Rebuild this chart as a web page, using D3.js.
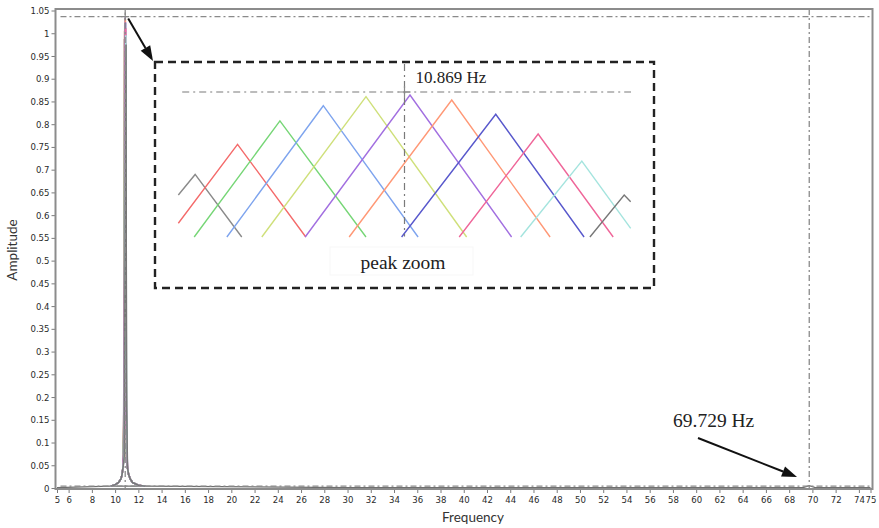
<!DOCTYPE html>
<html>
<head>
<meta charset="utf-8">
<script src="https://cdn.jsdelivr.net/npm/d3@7"></script>
<style>
  html, body { margin: 0; padding: 0; background: #fff; }
  svg { display: block; }
  .tick text { font-family: "Liberation Sans Narrow", "DejaVu Sans Condensed", sans-serif; font-size: 9.5px; fill: #2a2a2a; }
  .tick line { stroke: #7a7a7a; }
  .axis-title { font-family: Lato, "Open Sans", sans-serif; font-size: 13.5px; fill: #333; }
  .serif { font-family: "Liberation Serif", "DejaVu Serif", serif; fill: #222; }
</style>
</head>
<body>
<svg id="chart" width="879" height="528"></svg>
<script>
// ---- spectrum data -------------------------------------------------------
// One spectrum per run; each has its own peak near 10.87 Hz.
const seriesColors = ["#8a8a8a", "#f46a6a", "#76d676", "#7ea4ee", "#cfe07a", "#a26fe0",
                      "#ff9876", "#5858cc", "#ef6699", "#a4e4de", "#777777"];
const peakHz  = [10.8043, 10.8174, 10.8305, 10.8439, 10.8571, 10.8707, 10.8836, 10.8972, 10.9103, 10.9238, 10.9369];
const peakAmp = [0.9874, 1.0054, 1.0194, 1.0285, 1.0339, 1.0349, 1.0319, 1.0234, 1.0116, 0.9954, 0.9751];

// Flank samples on both sides of the peak (Hz) and the amplitude of each run there.
const flankHz = [9.6, 10.0, 10.3, 10.5, 10.6, 10.68, 10.74, 10.78, 10.96, 11.0, 11.06, 11.16, 11.3, 11.5, 12.0, 12.6];
const flankAmp = [
  [0.004, 0.007, 0.012, 0.020, 0.030, 0.045, 0.170, 0.460, 0.070, 0.056, 0.045, 0.030, 0.020, 0.012, 0.006, 0.004],
  [0.004, 0.007, 0.012, 0.020, 0.030, 0.045, 0.140, 0.300, 0.077, 0.060, 0.045, 0.030, 0.020, 0.012, 0.006, 0.004],
  [0.004, 0.007, 0.012, 0.020, 0.030, 0.045, 0.120, 0.220, 0.085, 0.065, 0.045, 0.030, 0.020, 0.012, 0.006, 0.004],
  [0.004, 0.007, 0.012, 0.020, 0.030, 0.045, 0.105, 0.170, 0.095, 0.070, 0.045, 0.030, 0.020, 0.012, 0.006, 0.004],
  [0.004, 0.007, 0.012, 0.020, 0.030, 0.045, 0.094, 0.140, 0.107, 0.077, 0.045, 0.030, 0.020, 0.012, 0.006, 0.004],
  [0.004, 0.007, 0.012, 0.020, 0.030, 0.045, 0.084, 0.120, 0.124, 0.085, 0.045, 0.030, 0.020, 0.012, 0.006, 0.004],
  [0.004, 0.007, 0.012, 0.020, 0.030, 0.045, 0.076, 0.105, 0.145, 0.095, 0.045, 0.030, 0.020, 0.012, 0.006, 0.004],
  [0.004, 0.007, 0.012, 0.020, 0.030, 0.045, 0.070, 0.094, 0.175, 0.107, 0.045, 0.030, 0.020, 0.012, 0.006, 0.004],
  [0.004, 0.007, 0.012, 0.020, 0.030, 0.045, 0.065, 0.085, 0.220, 0.120, 0.045, 0.030, 0.020, 0.012, 0.006, 0.004],
  [0.004, 0.007, 0.012, 0.020, 0.030, 0.045, 0.060, 0.076, 0.300, 0.145, 0.045, 0.030, 0.020, 0.012, 0.006, 0.004],
  [0.004, 0.007, 0.012, 0.020, 0.030, 0.045, 0.056, 0.070, 0.480, 0.175, 0.045, 0.030, 0.020, 0.012, 0.006, 0.004]
];

// Noise floor over the whole band, with the small component near 69.7 Hz.
const floorHz  = [5, 9.6, 12.6, 30, 50, 69.2, 69.729, 70.25, 75];
const floorAmp = [0.001, 0.004, 0.004, 0.001, 0.001, 0.001, 0.005, 0.001, 0.001];

// Cursors (frequency, amplitude) and their readouts.
const cursorHz  = [10.869, 69.729];
const cursorAmp = [1.0367, 0.004];
const cursorLabels = ["10.869 Hz", "69.729 Hz"];

// Samples around the main peak, shown in the zoom box (3 samples per run).
const insetHz = [
  [10.7991, 10.8043, 10.8187],
  [10.7991, 10.8174, 10.8385],
  [10.8040, 10.8305, 10.8571],
  [10.8141, 10.8439, 10.8732],
  [10.8249, 10.8571, 10.8882],
  [10.8383, 10.8707, 10.9021],
  [10.8519, 10.8836, 10.9140],
  [10.8681, 10.8972, 10.9245],
  [10.8859, 10.9103, 10.9335],
  [10.9049, 10.9238, 10.9389],
  [10.9263, 10.9369, 10.9389]
];
const insetAmp = [
  [0.9751, 0.9874, 0.9500],
  [0.9582, 1.0054, 0.9500],
  [0.9500, 1.0194, 0.9500],
  [0.9500, 1.0285, 0.9500],
  [0.9500, 1.0339, 0.9500],
  [0.9500, 1.0349, 0.9500],
  [0.9500, 1.0319, 0.9500],
  [0.9500, 1.0234, 0.9500],
  [0.9500, 1.0116, 0.9500],
  [0.9500, 0.9954, 0.9552],
  [0.9500, 0.9751, 0.9711]
];
const insetTitle = "peak zoom";

// Axis ticks and titles.
const xTicks = [5, 6, 8, 10, 12, 14, 16, 18, 20, 22, 24, 26, 28, 30, 32, 34, 36, 38, 40, 42, 44, 46,
                48, 50, 52, 54, 56, 58, 60, 62, 64, 66, 68, 70, 72, 74, 75];
const yTicks = [0, 0.05, 0.1, 0.15, 0.2, 0.25, 0.3, 0.35, 0.4, 0.45, 0.5, 0.55, 0.6, 0.65, 0.7,
                0.75, 0.8, 0.85, 0.9, 0.95, 1, 1.05];
const xTitle = "Frequency";
const yTitle = "Amplitude";

// ---- layout --------------------------------------------------------------
const svg = d3.select("#chart");
const plot = { left: 57, right: 870.5, top: 10.5, bottom: 488 };
const frame = { left: 55.5, right: 872.5, top: 9, bottom: 489 };

const x = d3.scaleLinear().domain([5, 75]).range([plot.left, plot.right]);
const y = d3.scaleLinear().domain([0, 1.05]).range([plot.bottom, plot.top]);

const dashDot = "6,3,2,3";
const cursorColor = "#8a8a8a";

svg.append("defs").append("clipPath").attr("id", "plotClip")
  .append("rect").attr("x", frame.left).attr("y", frame.top)
  .attr("width", frame.right - frame.left).attr("height", frame.bottom - frame.top);

// Axes
const xAxis = svg.append("g").attr("transform", `translate(0,${frame.bottom})`)
  .call(d3.axisBottom(x).tickValues(xTicks).tickSize(4).tickPadding(3).tickFormat(d3.format("~g")));
const yAxis = svg.append("g").attr("transform", `translate(${frame.left},0)`)
  .call(d3.axisLeft(y).tickValues(yTicks).tickSize(4).tickPadding(2).tickFormat(d3.format("~g")));
xAxis.select(".domain").remove();
yAxis.select(".domain").remove();

// Spectra
const line = d3.line().x(d => x(d[0])).y(d => y(d[1]));
const series = seriesColors.map((c, i) => {
  const pts = flankHz.map((f, j) => [f, flankAmp[i][j]]);
  pts.push([peakHz[i], peakAmp[i]]);
  pts.sort((a, b) => a[0] - b[0]);
  return { color: c, pts };
});

const gPlot = svg.append("g").attr("clip-path", "url(#plotClip)");
gPlot.append("path")
  .attr("d", line(floorHz.map((f, i) => [f, floorAmp[i]])))
  .attr("fill", "none").attr("stroke", "#6f6f6f").attr("stroke-width", 1.2);
gPlot.selectAll("path.spec").data(series).join("path")
  .attr("class", "spec")
  .attr("d", d => line(d.pts))
  .attr("fill", "none")
  .attr("stroke", d => d.color)
  .attr("stroke-width", 1.6);

// Cursor cross-hairs
cursorHz.forEach((f, i) => {
  gPlot.append("line")
    .attr("x1", x(5.3)).attr("x2", frame.right)
    .attr("y1", y(cursorAmp[i])).attr("y2", y(cursorAmp[i]))
    .attr("stroke", cursorColor).attr("stroke-width", 1.2).attr("stroke-dasharray", dashDot);
  gPlot.append("line")
    .attr("x1", x(f)).attr("x2", x(f))
    .attr("y1", frame.top).attr("y2", frame.bottom)
    .attr("stroke", cursorColor).attr("stroke-width", 1.3).attr("stroke-dasharray", dashDot);
});
// cursor marker on the main peak
gPlot.append("path")
  .attr("d", `M${x(cursorHz[0]) - 4},${y(cursorAmp[0])}h8M${x(cursorHz[0])},${y(cursorAmp[0]) - 4}v8`)
  .attr("stroke", "#888").attr("stroke-width", 1.2);

// Plot frame
svg.append("rect")
  .attr("x", frame.left).attr("y", frame.top)
  .attr("width", frame.right - frame.left).attr("height", frame.bottom - frame.top)
  .attr("fill", "none").attr("stroke", "#8c8c8c").attr("stroke-width", 2);

// Axis titles
svg.append("text").attr("class", "axis-title")
  .attr("x", 473).attr("y", 522).attr("text-anchor", "middle").text(xTitle);
svg.append("text").attr("class", "axis-title")
  .attr("transform", "translate(16.5,250) rotate(-90)")
  .attr("text-anchor", "middle").text(yTitle);

// ---- zoom box ------------------------------------------------------------
const box = { left: 155, top: 62, right: 654, bottom: 288 };
const xi = d3.scaleLinear().domain([10.799, 10.939]).range([178, 631]);
const yi = d3.scaleLinear().domain([0.95, 1.0367]).range([237, 92]);

svg.append("rect")
  .attr("x", box.left).attr("y", box.top)
  .attr("width", box.right - box.left).attr("height", box.bottom - box.top)
  .attr("fill", "#fff").attr("stroke", "#222").attr("stroke-width", 2.4)
  .attr("stroke-dasharray", "8,5");

const insetLine = d3.line().x(d => xi(d[0])).y(d => yi(d[1]));
svg.append("g").selectAll("path").data(seriesColors).join("path")
  .attr("d", (c, i) => insetLine(insetHz[i].map((f, j) => [f, insetAmp[i][j]])))
  .attr("fill", "none")
  .attr("stroke", c => c)
  .attr("stroke-width", 1.4);

// zoomed cursor
svg.append("line")
  .attr("x1", xi(10.8003)).attr("x2", xi(10.939))
  .attr("y1", yi(cursorAmp[0])).attr("y2", yi(cursorAmp[0]))
  .attr("stroke", "#7a7a7a").attr("stroke-width", 1.2).attr("stroke-dasharray", "7,4,2,4");
svg.append("line")
  .attr("x1", xi(cursorHz[0])).attr("x2", xi(cursorHz[0]))
  .attr("y1", box.top + 2).attr("y2", yi(0.9503))
  .attr("stroke", "#7a7a7a").attr("stroke-width", 1.2).attr("stroke-dasharray", "7,4,2,4");
svg.append("path")
  .attr("d", `M${xi(cursorHz[0]) - 6},${yi(cursorAmp[0])}h12M${xi(cursorHz[0])},${yi(cursorAmp[0]) - 6}v12`)
  .attr("stroke", "#888").attr("stroke-width", 1.2);

svg.append("text").attr("class", "serif")
  .attr("x", xi(cursorHz[0]) + 11).attr("y", 83)
  .attr("font-size", 17).text(cursorLabels[0]);

svg.append("rect")
  .attr("x", 330).attr("y", 247).attr("width", 143).attr("height", 28)
  .attr("fill", "#fff").attr("stroke", "#f7f7f7").attr("stroke-width", 1);
svg.append("text").attr("class", "serif")
  .attr("x", 403).attr("y", 269).attr("text-anchor", "middle")
  .attr("font-size", 19.5).text(insetTitle);

// ---- second cursor readout and arrows ------------------------------------
svg.append("text").attr("class", "serif")
  .attr("x", 673).attr("y", 427)
  .attr("font-size", 19.5).text(cursorLabels[1]);

function arrow(x1, y1, x2, y2) {
  const ang = Math.atan2(y2 - y1, x2 - x1);
  const hl = 15, hw = 5.5;
  const bx = x2 - hl * Math.cos(ang), by = y2 - hl * Math.sin(ang);
  svg.append("line")
    .attr("x1", x1).attr("y1", y1).attr("x2", bx).attr("y2", by)
    .attr("stroke", "#111").attr("stroke-width", 2);
  const px = -Math.sin(ang) * hw, py = Math.cos(ang) * hw;
  svg.append("path")
    .attr("d", `M${x2},${y2}L${bx + px},${by + py}L${bx - px},${by - py}Z`)
    .attr("fill", "#111");
}
arrow(x(cursorHz[0]) + 3, y(cursorAmp[0]) + 2, box.left - 2, box.top - 1);
arrow(698, 438, 797, 477);
</script>
</body>
</html>
